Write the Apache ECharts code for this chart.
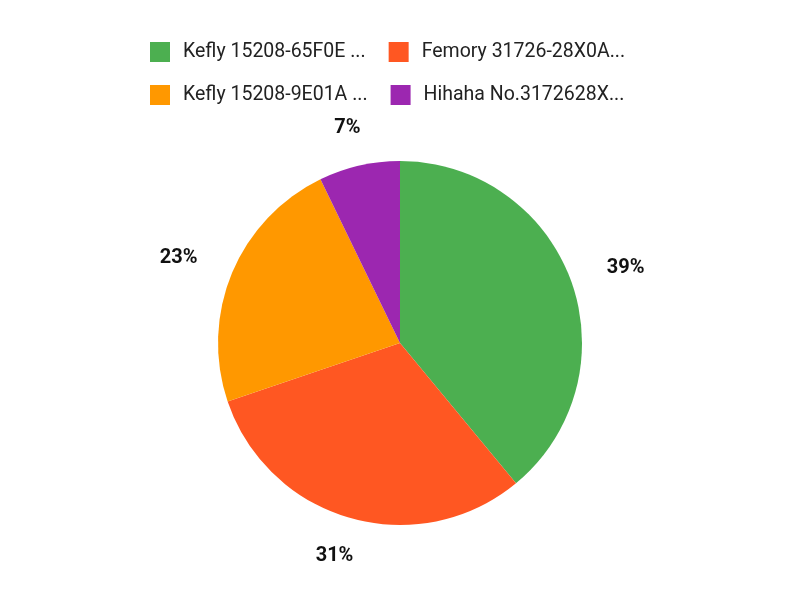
<!DOCTYPE html>
<html>
<head>
<meta charset="utf-8">
<script src="https://cdn.jsdelivr.net/npm/echarts@6/dist/echarts.min.js"></script>
<style>
  html, body { margin: 0; padding: 0; background: #fff; }
  #main { width: 800px; height: 600px; }
</style>
</head>
<body>
<div id="main"></div>
<script>
// slice names as shown in legend (truncated in source)
const names = [
  'Kefly 15208-65F0E ...',
  'Femory 31726-28X0A...',
  'Kefly 15208-9E01A ...',
  'Hihaha No.3172628X...'
]
const values = [39, 30.8, 23, 7.2]
const colors = ['#4CAF50', '#FF5722', '#FF9800', '#9C27B0']

const pieCenter = [400, 343]
const pieRadius = 182
const labelRadius = 221

const pieData = []
for (let i = 0; i < names.length; i++) {
  pieData.push({
    name: names[i],
    value: values[i],
    itemStyle: { color: colors[i] }
  })
}

// mid angle of each slice, clockwise from 12 o'clock
const total = values.reduce((a, b) => a + b, 0)
const midAngles = []
let acc = 0
for (let i = 0; i < values.length; i++) {
  midAngles.push((acc + values[i] / 2) / total * Math.PI * 2)
  acc += values[i]
}

const chart = echarts.init(document.getElementById('main'))
chart.setOption({
  animation: false,
  legend: {
    top: 37,
    left: 145,
    width: 540,
    itemWidth: 20,
    itemHeight: 20,
    itemGap: 23,
    icon: 'rect',
    textStyle: {
      fontFamily: 'Roboto',
      fontSize: 19.5,
      color: '#222',
      padding: [0, 0, 0, 8]
    },
    data: names
  },
  series: [{
    type: 'pie',
    center: pieCenter,
    radius: pieRadius,
    startAngle: 90,
    clockwise: true,
    label: {
      show: true,
      position: 'outside',
      formatter: function (p) {
        return Math.round(p.percent) + '%'
      },
      fontFamily: 'Roboto',
      fontSize: 20,
      fontWeight: 'bold',
      color: '#111'
    },
    labelLine: {
      show: false
    },
    labelLayout: function (p) {
      const a = midAngles[p.dataIndex]
      const sx = Math.sin(a)
      const sy = -Math.cos(a)
      return {
        x: pieCenter[0] + labelRadius * sx + sx * p.labelRect.width / 2,
        y: pieCenter[1] + labelRadius * sy,
        align: 'center',
        verticalAlign: 'middle'
      }
    },
    data: pieData
  }]
})
</script>
</body>
</html>
